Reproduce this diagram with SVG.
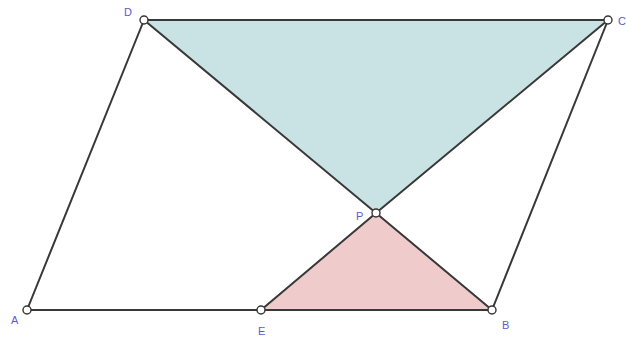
<svg xmlns="http://www.w3.org/2000/svg" width="626" height="340" viewBox="0 0 626 340">
<style>
.edge{stroke:#383838;stroke-width:2;fill:none;stroke-linecap:round}
.pt{fill:#fff;stroke:#333;stroke-width:1.4}
.lbl{font-family:"Liberation Sans",Arial,sans-serif;font-size:11px;fill:#5a5ad0}
</style>
<rect width="626" height="340" fill="#fff"/>
<g id="fills">
<polygon points="144,20 608,20 376,213" fill="#c9e2e3"/>
<polygon points="261,310 376,213 492,310" fill="#efcbcb"/>
</g>
<g id="connectors">
<line class="edge" x1="27" y1="310" x2="492" y2="310"/>
<line class="edge" x1="492" y1="310" x2="608" y2="20"/>
<line class="edge" x1="608" y1="20" x2="144" y2="20"/>
<line class="edge" x1="144" y1="20" x2="27" y2="310"/>
<line class="edge" x1="144" y1="20" x2="376" y2="213"/>
<line class="edge" x1="608" y1="20" x2="376" y2="213"/>
<line class="edge" x1="261" y1="310" x2="376" y2="213"/>
<line class="edge" x1="492" y1="310" x2="376" y2="213"/>
</g>
<g id="A"><circle class="pt" cx="27" cy="310" r="4"/><text class="lbl" x="11" y="324">A</text></g>
<g id="E"><circle class="pt" cx="261" cy="310" r="4"/><text class="lbl" x="258" y="335">E</text></g>
<g id="B"><circle class="pt" cx="492" cy="310" r="4"/><text class="lbl" x="502" y="329">B</text></g>
<g id="P"><circle class="pt" cx="376" cy="213" r="4"/><text class="lbl" x="356" y="220">P</text></g>
<g id="D"><circle class="pt" cx="144" cy="20" r="4"/><text class="lbl" x="124" y="16">D</text></g>
<g id="C"><circle class="pt" cx="608" cy="20" r="4"/><text class="lbl" x="618" y="25">C</text></g>
</svg>
